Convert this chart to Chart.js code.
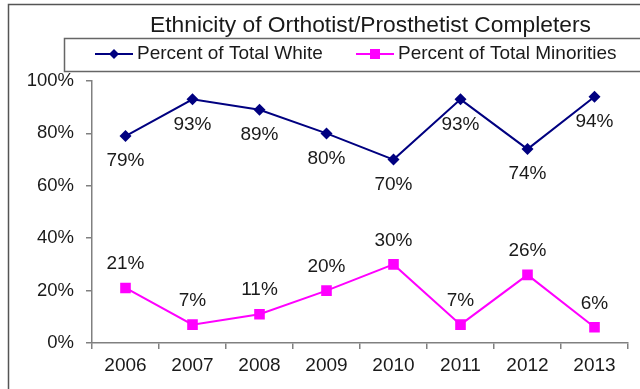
<!DOCTYPE html>
<html>
<head>
<meta charset="utf-8">
<script src="https://cdn.jsdelivr.net/npm/chart.js@4"></script>
<style>
  html, body { margin: 0; padding: 0; background: #fff; }
  #wrap { width: 640px; height: 389px; }
</style>
</head>
<body>
<div id="wrap"><canvas id="chart" width="640" height="389"></canvas></div>
<script>
// chart data
const years = ['2006', '2007', '2008', '2009', '2010', '2011', '2012', '2013'];
const whitePct = [79, 93, 89, 80, 70, 93, 74, 94];
const minorityPct = [21, 7, 11, 20, 30, 7, 26, 6];
const yTicks = [0, 20, 40, 60, 80, 100];

const FONT = '"Liberation Sans", Arial, sans-serif';
const NAVY = '#000080';
const MAGENTA = '#ff00ff';
const TEXT = '#1a1a1a';

// frame, title and boxed legend
const decorPlugin = {
    id: 'decor',
    afterDraw(chart) {
        const ctx = chart.ctx;
        ctx.save();
        ctx.strokeStyle = '#555';
        ctx.lineWidth = 1.5;
        ctx.beginPath();
        ctx.moveTo(8.5, 400);
        ctx.lineTo(8.5, 4.5);
        ctx.lineTo(660, 4.5);
        ctx.stroke();

        ctx.fillStyle = TEXT;
        ctx.font = '22.8px ' + FONT;
        ctx.textAlign = 'left';
        ctx.textBaseline = 'middle';
        ctx.fillText('Ethnicity of Orthotist/Prosthetist Completers', 150, 26);

        ctx.strokeStyle = '#666';
        ctx.lineWidth = 1.5;
        ctx.strokeRect(64.5, 38.5, 620, 33);

        const items = chart.data.datasets;
        const xs = [95, 356];
        ctx.font = '19px ' + FONT;
        items.forEach((ds, i) => {
            const x = xs[i], y = 54;
            ctx.strokeStyle = ds.borderColor;
            ctx.lineWidth = 2;
            ctx.beginPath();
            ctx.moveTo(x, y);
            ctx.lineTo(x + 38, y);
            ctx.stroke();
            ctx.fillStyle = ds.backgroundColor;
            ctx.beginPath();
            if (ds.pointStyle === 'rectRot') {
                ctx.moveTo(x + 19, y - 5);
                ctx.lineTo(x + 24, y);
                ctx.lineTo(x + 19, y + 5);
                ctx.lineTo(x + 14, y);
            } else {
                ctx.rect(x + 14, y - 5, 10, 10);
            }
            ctx.closePath();
            ctx.fill();
            ctx.fillStyle = TEXT;
            ctx.fillText(ds.label, x + 42, y);
        });
        ctx.restore();
    }
};

// value labels: below for white, above for minorities
const labelPlugin = {
    id: 'valueLabels',
    afterDatasetsDraw(chart) {
        const ctx = chart.ctx;
        ctx.save();
        ctx.font = '19px ' + FONT;
        ctx.fillStyle = TEXT;
        ctx.textAlign = 'center';
        ctx.textBaseline = 'middle';
        chart.data.datasets.forEach((ds, i) => {
            const meta = chart.getDatasetMeta(i);
            meta.data.forEach((pt, j) => {
                const dy = i === 0 ? 25 : -24;
                ctx.fillText(ds.data[j] + '%', pt.x, pt.y + dy);
            });
        });
        ctx.restore();
    }
};

new Chart(document.getElementById('chart').getContext('2d'), {
    type: 'line',
    data: {
        labels: years,
        datasets: [{
            label: 'Percent of Total White',
            data: whitePct,
            borderColor: NAVY,
            backgroundColor: NAVY,
            borderWidth: 2,
            pointStyle: 'rectRot',
            pointRadius: 6,
            pointBorderWidth: 0,
            tension: 0
        }, {
            label: 'Percent of Total Minorities',
            data: minorityPct,
            borderColor: MAGENTA,
            backgroundColor: MAGENTA,
            borderWidth: 2,
            pointStyle: 'rect',
            pointRadius: 7.5,
            pointBorderWidth: 0,
            tension: 0
        }]
    },
    options: {
        responsive: false,
        animation: false,
        layout: { padding: { left: 0, top: 81, right: 12, bottom: 0 } },
        plugins: {
            legend: { display: false },
            title: { display: false },
            tooltip: { enabled: false }
        },
        scales: {
            x: {
                offset: true,
                grid: { offset: true, drawOnChartArea: false, tickLength: 6, color: '#808080', lineWidth: 1.5 },
                border: { color: '#808080', width: 1.5 },
                ticks: { color: TEXT, font: { family: FONT, size: 19 }, padding: 5 },
                afterFit(scale) { scale.height = 46; }
            },
            y: {
                min: 0,
                max: 100,
                afterBuildTicks(scale) { scale.ticks = yTicks.map(v => ({ value: v })); },
                grid: { drawOnChartArea: false, tickLength: 6, color: '#808080', lineWidth: 1.5 },
                border: { color: '#808080', width: 1.5 },
                ticks: {
                    color: TEXT,
                    font: { family: FONT, size: 18.5 },
                    padding: 12,
                    callback: v => v + '%'
                },
                afterFit(scale) { scale.width = 92; }
            }
        }
    },
    plugins: [decorPlugin, labelPlugin]
});
</script>
</body>
</html>
